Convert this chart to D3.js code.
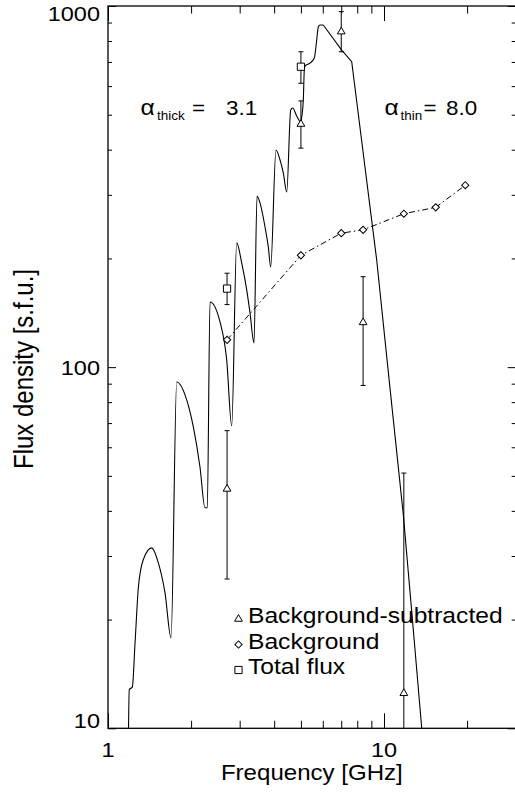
<!DOCTYPE html>
<html>
<head>
<meta charset="utf-8">
<script src="https://cdn.jsdelivr.net/npm/d3@7"></script>
<style>
  body { margin: 0; background: #fff; }
  text { font-family: "Liberation Sans", Arial, sans-serif; fill: #000; }
</style>
</head>
<body>
<svg id="chart" width="515" height="794"></svg>
<script>
// model spectrum (solid line)
var modelFreq = [1.185, 1.194, 1.225, 1.252, 1.288, 1.342, 1.440, 1.522, 1.609, 1.692,
    1.774, 1.928, 2.038, 2.154, 2.246, 2.290, 2.342, 2.546, 2.692, 2.807,
    2.926, 3.051, 3.181, 3.270, 3.381, 3.467, 3.554, 3.706, 3.809, 3.886,
    4.061, 4.200, 4.317, 4.442, 4.592, 4.669, 4.827, 4.991, 5.046, 5.101,
    5.143, 5.174, 5.395, 5.591, 5.704, 5.781, 5.863, 6.027, 7.026, 7.638,
    9.409, 10.51, 11.75, 12.69, 13.70, 13.9];
var modelFlux = [9, 12.8, 13.0, 17.0, 24.5, 29.3, 31.6, 28.7, 23.7, 17.8,
    91.0, 81.2, 68.3, 52.9, 40.8, 40.8, 151.5, 133.4, 104.7, 68.7,
    220.8, 194.3, 163.6, 141.3, 116.7, 297.8, 284.9, 244.4, 215.2, 189.4,
    399.2, 374.7, 344.9, 305.5, 515.3, 521.9, 496.0, 477.4, 499, 549.5,
    665, 682, 695, 718, 805, 875, 886, 886, 755, 701,
    198, 87.6, 39.0, 19.8, 10, 9];

// background-subtracted (triangles)
var subFreq = [2.7, 5.0, 7.0, 8.4, 11.8];
var subFlux = [46, 471, 849, 133, 12.5];
var subLo = [25.9, 404, 747, 89, 5];
var subHi = [66.7, 546, 965, 178, 50.9];

// background (diamonds)
var bgFreq = [2.7, 5.0, 7.0, 8.4, 11.8, 15.4, 19.7];
var bgFlux = [119, 204, 235, 240, 266, 277, 319];

// total flux (squares)
var totFreq = [2.7, 5.0];
var totFlux = [165, 679];
var totLo = [149, 611];
var totHi = [182, 747];

var xMajor = [1, 10], xMinor = [2, 3, 4, 5, 6, 7, 8, 9, 20, 30];
var yMajor = [10, 100, 1000], yMinor = [20, 30, 40, 50, 60, 70, 80, 90, 200, 300, 400, 500, 600, 700, 800, 900];
var xTickLabels = ["1", "10"];
var yTickLabels = ["10", "100", "1000"];
var legendNames = ["Background-subtracted", "Background", "Total flux"];

var sx = 1.12; // glyphs in the original are a little wide
var pLeft = 108, pTop = 6, pBottom = 728.3;
var pRight = pLeft + 276 * Math.log10(30);

var svg = d3.select('#chart');

var x = d3.scaleLog().domain([1, 30]).range([pLeft, pRight]);
var y = d3.scaleLog().domain([10, 1000]).range([pBottom, pTop]);

function label(g, px, py, str, size, anchor, stretch) {
    return g.append('text')
        .attr('transform', 'translate(' + px + ',' + py + ') scale(' + (stretch || sx) + ',1)')
        .attr('text-anchor', anchor || 'start')
        .style('font-size', size + 'px')
        .text(str);
}

// ticks
function ticks(axis, values, len, tr) {
    svg.append('g')
        .attr('transform', tr)
        .call(axis.tickValues(values).tickSize(-len).tickFormat(''))
        .call(function (g) { g.select('.domain').remove(); })
        .selectAll('line').attr('stroke', '#000').attr('stroke-width', 1);
}
ticks(d3.axisBottom(x), xMajor, 15, 'translate(0,' + pBottom + ')');
ticks(d3.axisBottom(x), xMinor, 7.5, 'translate(0,' + pBottom + ')');
ticks(d3.axisTop(x), xMajor, 15, 'translate(0,' + pTop + ')');
ticks(d3.axisTop(x), xMinor, 7.5, 'translate(0,' + pTop + ')');
ticks(d3.axisLeft(y), yMajor, 8, 'translate(' + pLeft + ',0)');
ticks(d3.axisLeft(y), yMinor, 4, 'translate(' + pLeft + ',0)');
ticks(d3.axisRight(y), yMajor, 8, 'translate(' + pRight + ',0)');
ticks(d3.axisRight(y), yMinor, 4, 'translate(' + pRight + ',0)');

svg.append('rect')
    .attr('x', pLeft).attr('y', pTop)
    .attr('width', pRight - pLeft).attr('height', pBottom - pTop)
    .attr('fill', 'none').attr('stroke', '#000').attr('stroke-width', 1.3);

// tick labels
xMajor.forEach(function (v, i) { label(svg, x(v), 757, xTickLabels[i], 21, 'middle'); });
yMajor.forEach(function (v, i) {
    var by = Math.min(Math.max(y(v) + 7.5, pTop + 14.5), pBottom);
    label(svg, 100, by, yTickLabels[i], 21, 'end');
});

// axis titles
label(svg, (pLeft + pRight) / 2, 780, 'Frequency [GHz]', 21.5, 'middle');
svg.append('text')
    .attr('transform', 'translate(32.5,369) scale(' + sx + ',1) rotate(-90)')
    .attr('text-anchor', 'middle')
    .style('font-size', '24px')
    .text('Flux density [s.f.u.]');

// plot contents
svg.append('clipPath').attr('id', 'clip')
    .append('rect').attr('x', pLeft).attr('y', pTop)
    .attr('width', pRight - pLeft).attr('height', pBottom - pTop);
var plot = svg.append('g').attr('clip-path', 'url(#clip)');

var line = d3.line()
    .x(function (d) { return x(d[0]); })
    .y(function (d) { return y(d[1]); });

// smooth harmonic lobes up to the peak, straight segments on the optically thin side
var model = d3.zip(modelFreq, modelFlux);
var split = modelFreq.indexOf(6.027);
plot.append('path')
    .attr('d', line.curve(d3.curveMonotoneX)(model.slice(0, split + 1)))
    .attr('fill', 'none').attr('stroke', '#000').attr('stroke-width', 1.1);
plot.append('path')
    .attr('d', line.curve(d3.curveLinear)(model.slice(split)))
    .attr('fill', 'none').attr('stroke', '#000').attr('stroke-width', 1.1);

plot.append('path')
    .attr('d', line.curve(d3.curveLinear)(d3.zip(bgFreq, bgFlux)))
    .attr('fill', 'none').attr('stroke', '#000').attr('stroke-width', 1)
    .attr('stroke-dasharray', '6,3,1.5,3');

function errorBars(fr, lo, hi) {
    var g = plot.append('g').attr('stroke', '#000').attr('stroke-width', 1);
    fr.forEach(function (f, i) {
        var px = x(f);
        g.append('line').attr('x1', px).attr('x2', px).attr('y1', y(lo[i])).attr('y2', y(hi[i]));
        [lo[i], hi[i]].forEach(function (v) {
            g.append('line').attr('x1', px - 2.5).attr('x2', px + 2.5).attr('y1', y(v)).attr('y2', y(v));
        });
    });
}
errorBars(subFreq, subLo, subHi);
errorBars(totFreq, totLo, totHi);

var triangle = d3.symbol().type(d3.symbolTriangle).size(26);
var square = d3.symbol().type(d3.symbolSquare).size(52);
var diamond = d3.symbol().type(d3.symbolSquare).size(26);

function marks(fr, fl, sym, rot) {
    plot.selectAll(null)
        .data(d3.zip(fr, fl))
        .enter()
        .append('path')
        .attr('d', sym)
        .attr('transform', function (d) {
            return 'translate(' + x(d[0]) + ',' + y(d[1]) + ') rotate(' + rot + ')';
        })
        .attr('fill', '#fff').attr('stroke', '#000').attr('stroke-width', 1);
}
marks(subFreq, subFlux, triangle, 0);
marks(bgFreq, bgFlux, diamond, 45);
marks(totFreq, totFlux, square, 0);

// spectral index labels
label(svg, 140.5, 115, 'α', 22);
label(svg, 157, 120, 'thick', 13.5, 'start', 1);
label(svg, 192, 115, '=', 20);
label(svg, 226, 115, '3.1', 20);
label(svg, 384.5, 115, 'α', 22);
label(svg, 400.5, 120, 'thin', 13.5, 'start', 1);
label(svg, 423.5, 115, '=', 20);
label(svg, 446, 115, '8.0', 20);

// legend
var legSyms = [[triangle, 0], [diamond, 45], [square, 0]];
legendNames.forEach(function (name, i) {
    var ly = 623 + i * 25.5;
    svg.append('path')
        .attr('d', legSyms[i][0])
        .attr('transform', 'translate(238.5,' + (ly - 4) + ') rotate(' + legSyms[i][1] + ')')
        .attr('fill', 'none').attr('stroke', '#000').attr('stroke-width', 1);
    label(svg, 248, ly, name, 22);
});
</script>
</body>
</html>
